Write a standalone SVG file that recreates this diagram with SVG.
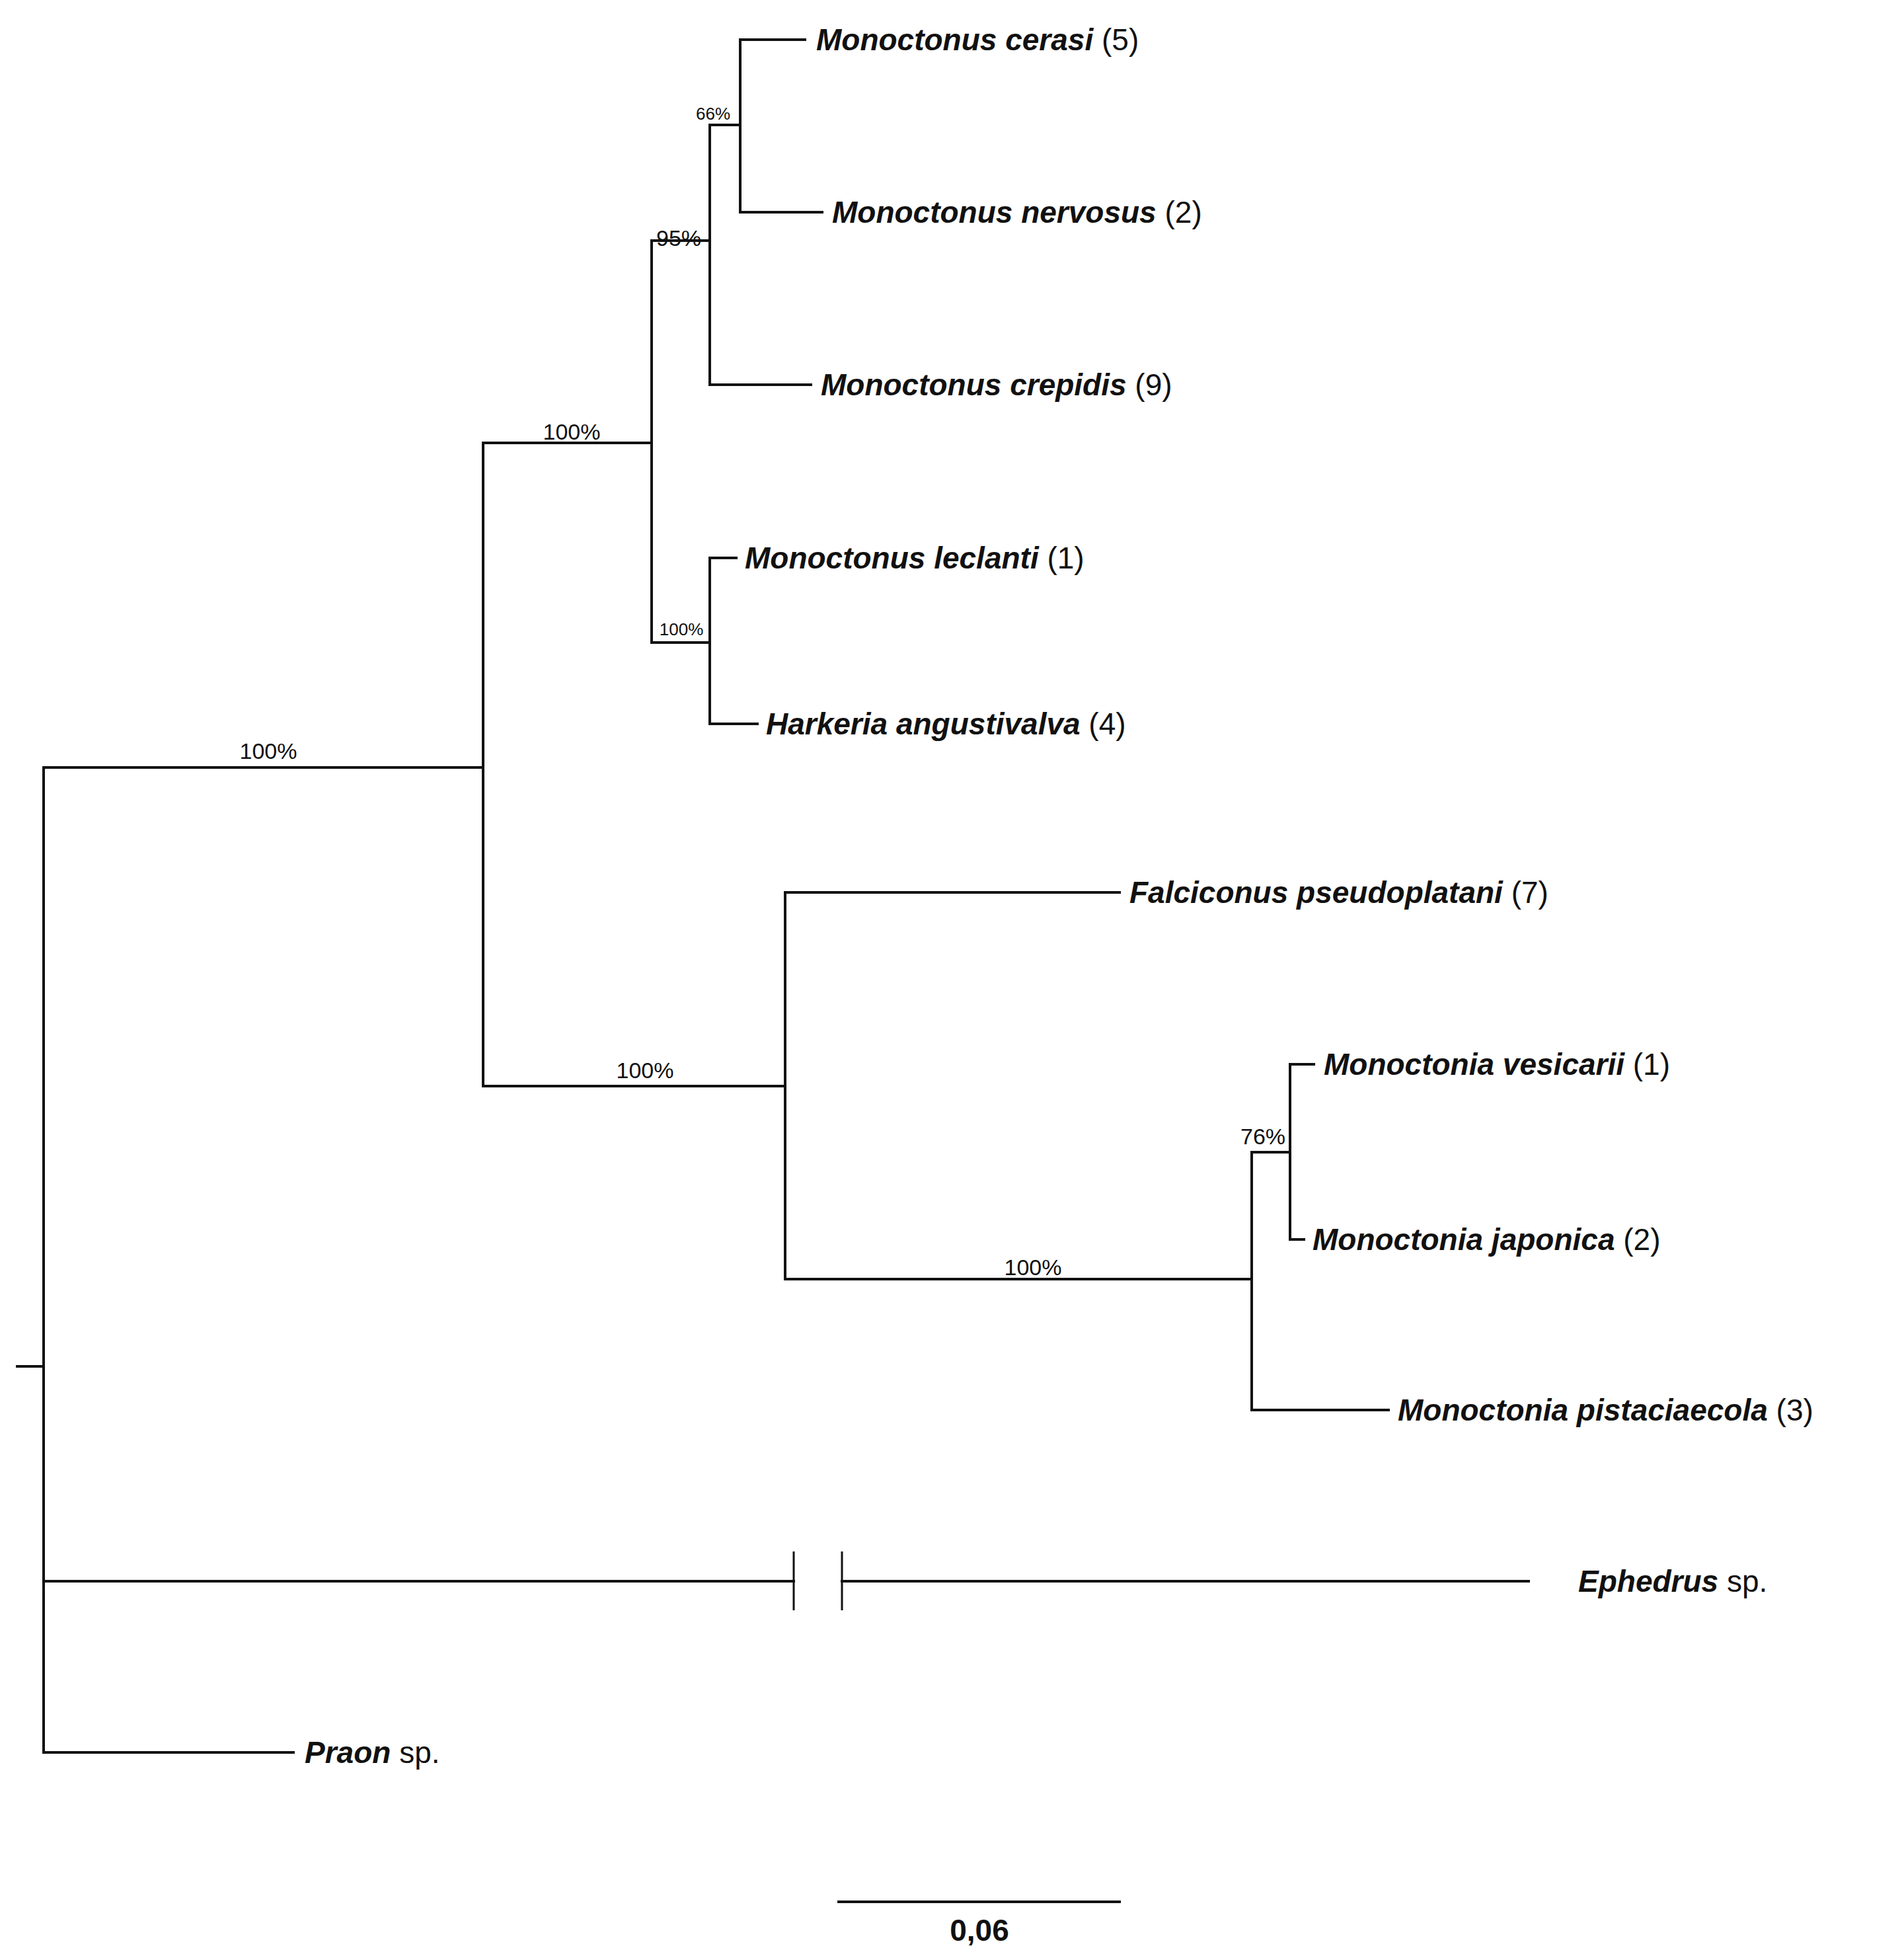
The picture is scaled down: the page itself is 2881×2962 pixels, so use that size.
<svg xmlns="http://www.w3.org/2000/svg" width="2881" height="2962" viewBox="0 0 2881 2962">
<style>
.l{stroke:#111;stroke-width:4;fill:none;stroke-linecap:square}
.t{stroke:#111;stroke-width:3;fill:none}
text{font-family:"Liberation Sans",Arial,sans-serif;fill:#111}
.sp{font-size:46px}
.sp tspan.i{font-style:italic;font-weight:bold}
.b{font-size:34px;text-anchor:middle}
.s{font-size:26px;text-anchor:middle}
</style>
<rect width="2881" height="2962" fill="#fff"/>
<g id="connectors">
<path class="l" d="M26 2067H66M66 1161V2651"/>
<path class="l" d="M66 1161H731M731 670V1643"/>
<path class="l" d="M731 670H986M986 364V972"/>
<path class="l" d="M986 364H1074M1074 189V582"/>
<path class="l" d="M1074 189H1120M1120 60V321"/>
<path class="l" d="M1120 60H1218M1120 321H1244M1074 582H1227"/>
<path class="l" d="M986 972H1074M1074 844V1095M1074 844H1114M1074 1095H1146"/>
<path class="l" d="M731 1643H1188M1188 1350V1935M1188 1350H1694"/>
<path class="l" d="M1188 1935H1894M1894 1743V2133M1894 2133H2101"/>
<path class="l" d="M1894 1743H1952M1952 1610V1875M1952 1610H1988M1952 1875H1973"/>
<path class="l" d="M66 2392H1201M1274 2392H2313"/>
<path class="t" d="M1201 2347V2436M1274 2347V2436"/>
<path class="l" d="M66 2651H444"/>
<path class="l" d="M1269 2877H1694" stroke-width="5"/>
</g>
<g id="support">
<text class="b" x="406" y="1148">100%</text>
<text class="b" x="865" y="665">100%</text>
<text class="b" x="1027" y="372">95%</text>
<text class="s" x="1079" y="181">66%</text>
<text class="s" x="1031" y="961">100%</text>
<text class="b" x="976" y="1631">100%</text>
<text class="b" x="1563" y="1929">100%</text>
<text class="b" x="1911" y="1731">76%</text>
</g>
<g id="n-cerasi"><text class="sp" x="1235" y="76"><tspan class="i">Monoctonus cerasi</tspan> (5)</text></g>
<g id="n-nervosus"><text class="sp" x="1259" y="337"><tspan class="i">Monoctonus nervosus</tspan> (2)</text></g>
<g id="n-crepidis"><text class="sp" x="1242" y="598"><tspan class="i">Monoctonus crepidis</tspan> (9)</text></g>
<g id="n-leclanti"><text class="sp" x="1127" y="860"><tspan class="i">Monoctonus leclanti</tspan> (1)</text></g>
<g id="n-harkeria"><text class="sp" x="1159" y="1111"><tspan class="i">Harkeria angustivalva</tspan> (4)</text></g>
<g id="n-falciconus"><text class="sp" x="1709" y="1366"><tspan class="i">Falciconus pseudoplatani</tspan> (7)</text></g>
<g id="n-vesicarii"><text class="sp" x="2003" y="1626"><tspan class="i">Monoctonia vesicarii</tspan> (1)</text></g>
<g id="n-japonica"><text class="sp" x="1986" y="1891"><tspan class="i">Monoctonia japonica</tspan> (2)</text></g>
<g id="n-pistaciaecola"><text class="sp" x="2115" y="2149"><tspan class="i">Monoctonia pistaciaecola</tspan> (3)</text></g>
<g id="n-ephedrus"><text class="sp" x="2388" y="2408"><tspan class="i">Ephedrus</tspan> sp.</text></g>
<g id="n-praon"><text class="sp" x="461" y="2667"><tspan class="i">Praon</tspan> sp.</text></g>
<g id="scale"><text x="1482" y="2936" font-size="46" font-weight="bold" text-anchor="middle">0,06</text></g>
</svg>
